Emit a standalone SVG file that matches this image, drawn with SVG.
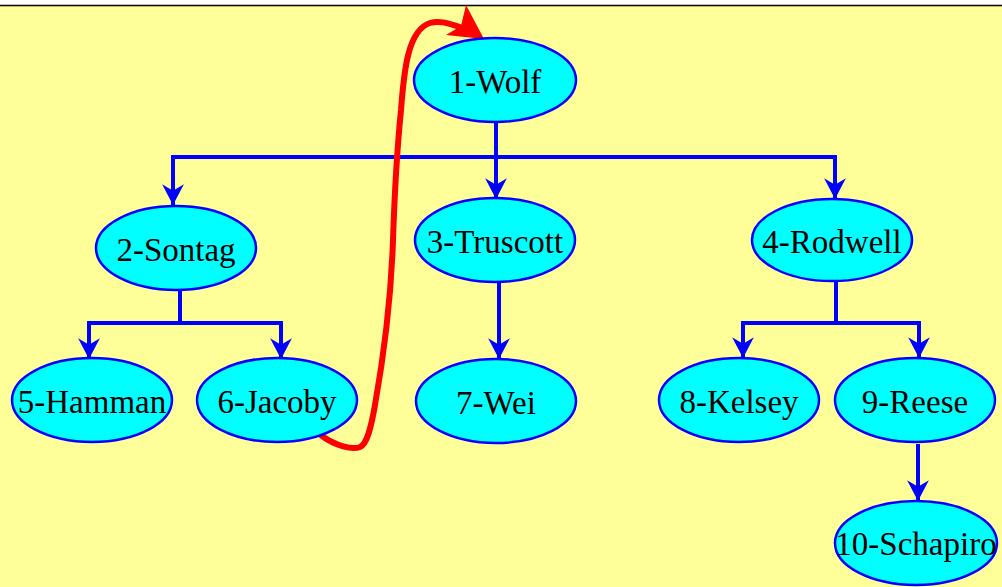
<svg xmlns="http://www.w3.org/2000/svg" width="1002" height="587" viewBox="0 0 1002 587">
<style>
.node ellipse{fill:#00ffff;stroke:#0000ff;stroke-width:2.5}
.node text{font-family:'Liberation Serif','DejaVu Serif',serif;font-size:33px;fill:#000;text-anchor:middle}
.edge{fill:none;stroke:#0000ff;stroke-width:4;stroke-linejoin:miter}
.arr{marker-end:url(#ah)}
</style>
<defs>
<marker id="ah" markerUnits="userSpaceOnUse" markerWidth="24" markerHeight="24" viewBox="-20 -11 22 22" refX="0" refY="0" orient="auto">
<path d="M0,0 L-19,-10 L-13,0 L-19,10 Z" fill="#0000ff"/>
</marker>
</defs>
<rect x="0" y="0" width="1002" height="587" fill="#ffffff"/>
<rect x="0" y="5" width="1002" height="582" fill="#ffff99"/>
<line x1="0" y1="5.5" x2="1002" y2="5.5" stroke="#000" stroke-width="1.5"/>
<g id="connectors">
<path class="edge" d="M496,122 V157"/>
<path class="edge" d="M173,157 H835"/>
<path class="edge arr" d="M173,155 V205"/>
<path class="edge arr" d="M496,157 V199"/>
<path class="edge arr" d="M835,155 V199"/>
<path class="edge" d="M180,290 V323"/>
<path class="edge" d="M89,323 H281"/>
<path class="edge arr" d="M89,321 V359"/>
<path class="edge arr" d="M281,321 V359"/>
<path class="edge arr" d="M499,282 V359"/>
<path class="edge" d="M836,281 V323"/>
<path class="edge" d="M743,323 H919"/>
<path class="edge arr" d="M743,321 V358"/>
<path class="edge arr" d="M919,321 V358"/>
<path class="edge arr" d="M918,444 V501"/>
<path d="M322,436 C336,446 352,450 360,447 C367,444 371,428 375,405 C383,360 391,300 393,240 C395,180 397,150 401,110 C404,70 408,30 430,23 C440,20 450,24 460,27" fill="none" stroke="#ff0000" stroke-width="6" stroke-linecap="round"/>
<polygon points="484,39 466,5 461,26 446,35" fill="#ff0000"/>
</g>
<g id="n1" class="node"><ellipse cx="495" cy="80" rx="81" ry="42"/><text x="495" y="93" font-family="Liberation Serif, serif">1-Wolf</text></g>
<g id="n2" class="node"><ellipse cx="176" cy="248" rx="80" ry="42"/><text x="176" y="261" font-family="Liberation Serif, serif">2-Sontag</text></g>
<g id="n3" class="node"><ellipse cx="495" cy="240" rx="80" ry="42"/><text x="495" y="253" font-family="Liberation Serif, serif">3-Truscott</text></g>
<g id="n4" class="node"><ellipse cx="832" cy="240" rx="80" ry="41"/><text x="832" y="253" font-family="Liberation Serif, serif">4-Rodwell</text></g>
<g id="n5" class="node"><ellipse cx="92" cy="400" rx="80" ry="42"/><text x="92" y="413" font-family="Liberation Serif, serif">5-Hamman</text></g>
<g id="n6" class="node"><ellipse cx="277" cy="400" rx="80" ry="42"/><text x="277" y="413" font-family="Liberation Serif, serif">6-Jacoby</text></g>
<g id="n7" class="node"><ellipse cx="496" cy="401" rx="80" ry="42"/><text x="496" y="414" font-family="Liberation Serif, serif">7-Wei</text></g>
<g id="n8" class="node"><ellipse cx="739" cy="400" rx="80" ry="42"/><text x="739" y="413" font-family="Liberation Serif, serif">8-Kelsey</text></g>
<g id="n9" class="node"><ellipse cx="915" cy="400" rx="80" ry="42"/><text x="915" y="413" font-family="Liberation Serif, serif">9-Reese</text></g>
<g id="n10" class="node"><ellipse cx="916" cy="543" rx="81" ry="42"/><text x="916" y="555" font-family="Liberation Serif, serif">10-Schapiro</text></g>
</svg>
